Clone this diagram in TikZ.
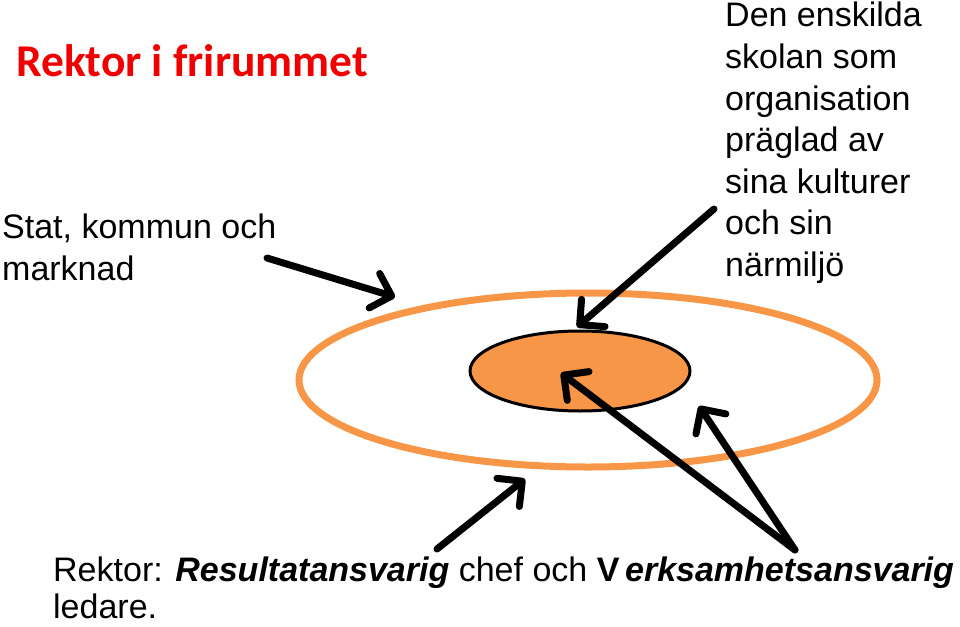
\documentclass[tikz,border=0pt]{standalone}
\usepackage{fontspec}
\setmainfont{Liberation Sans}
\newfontfamily\titlefont{Carlito}
\usetikzlibrary{shapes.geometric,arrows.meta}
\definecolor{accorange}{RGB}{247,150,70}
\definecolor{titlered}{RGB}{240,0,0}
\begin{document}
\begin{tikzpicture}[x=1pt,y=-1pt,
  txt/.style={anchor=base west, inner sep=0pt, font=\fontsize{34}{40}\selectfont},
  ptr/.style={line width=7pt, line cap=round, -{Straight Barb[length=18pt,width=36pt,round]}}]
\useasboundingbox (0,0) rectangle (960,626);
% ellipses
\node[ellipse, draw=accorange, line width=7pt, minimum width=578pt, minimum height=174pt, inner sep=0pt] (outer) at (588,380) {};
\node[ellipse, draw=black, fill=accorange, line width=3pt, minimum width=220pt, minimum height=80pt, inner sep=0pt] (inner) at (580,371) {};
% title
\node[anchor=base west, inner sep=0pt, text=titlered, font=\titlefont\bfseries\fontsize{45.5}{50}\selectfont] (title) at (16,77) {Rektor i frirummet};
% left text
\node[txt] (l1) at (2,238) {Stat, kommun och};
\node[txt] (l2) at (2,280) {marknad};
% right text
\node[txt] (r1) at (725,27) {Den enskilda};
\node[txt] (r2) at (725,68.5) {skolan som};
\node[txt] (r3) at (725,110) {organisation};
\node[txt] (r4) at (725,151.5) {präglad av};
\node[txt] (r5) at (725,193) {sina kulturer};
\node[txt] (r6) at (725,234.5) {och sin};
\node[txt] (r7) at (725,276) {närmiljö};
% bottom text
\node[txt] (b1) at (53,581) {Rektor: \textbf{\textit{Resultatansvarig}} chef och \textbf{V}\,\textbf{\textit{erksamhetsansvarig}}};
\node[txt] (b2) at (53,618) {ledare.};
% arrow ends
\coordinate (a1s) at (267,258); \coordinate (a1e) at (395,297);
\coordinate (a2s) at (714,209); \coordinate (a2e) at (577,327);
\coordinate (apex) at (795,550);
\coordinate (a3e) at (561,373);
\coordinate (a4e) at (699,406);
\coordinate (a5s) at (437,549); \coordinate (a5e) at (525,479);
\draw[ptr] (a1s) -- (a1e);
\draw[ptr] (a2s) -- (a2e);
\draw[ptr] (apex) -- (a3e);
\draw[ptr] (apex) -- (a4e);
\draw[ptr] (a5s) -- (a5e);
\end{tikzpicture}
\end{document}
